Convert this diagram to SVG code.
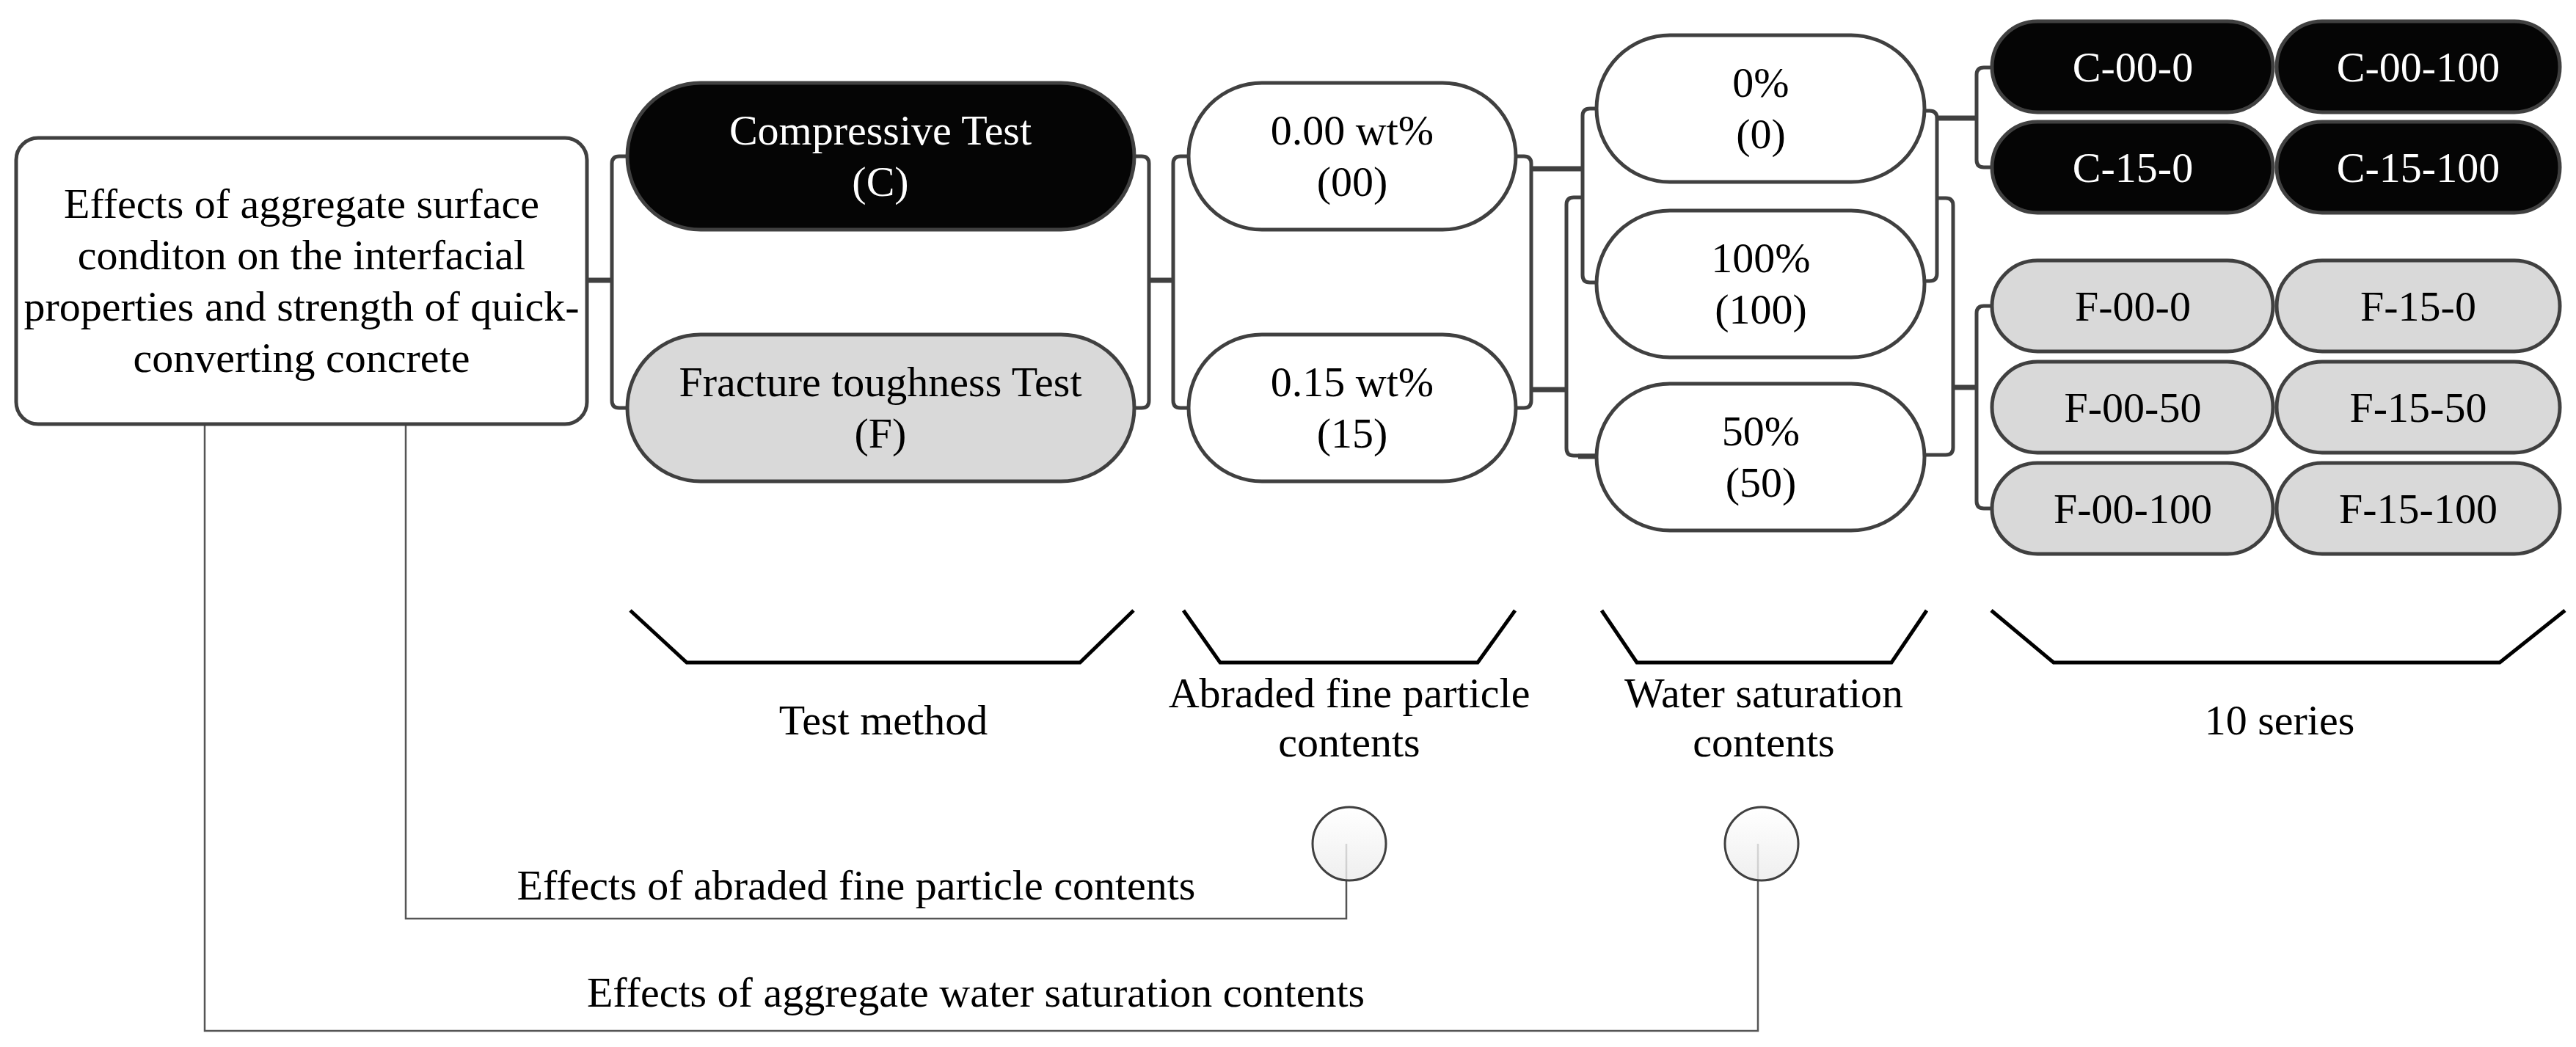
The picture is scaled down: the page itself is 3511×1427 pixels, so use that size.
<svg xmlns="http://www.w3.org/2000/svg" width="3511" height="1427" viewBox="0 0 3511 1427">
<defs>
<linearGradient id="cg" x1="0" y1="0" x2="0" y2="1"><stop offset="0" stop-color="#ffffff"/><stop offset="1" stop-color="#ebebeb"/></linearGradient>
<style>
text{font-family:"Liberation Serif","Times New Roman",serif;font-size:58px;text-anchor:middle;fill:#000}
.w{fill:#fff}
.pw{fill:#fff;stroke:#404040;stroke-width:5}
.pb{fill:#050505;stroke:#404040;stroke-width:5}
.pg{fill:#d9d9d9;stroke:#404040;stroke-width:5}
.br{fill:none;stroke:#404040;stroke-width:5;stroke-linejoin:round}
.tk{fill:none;stroke:#404040;stroke-width:7}
.tr{fill:none;stroke:#000;stroke-width:5;stroke-linejoin:miter}
.thin{fill:none;stroke:#555;stroke-width:2.5}
.circ{fill:url(#cg);fill-opacity:0.8;stroke:#404040;stroke-width:3}
</style>
</defs>
<rect width="3511" height="1427" fill="#fff"/>

<g id="connectors">
<line class="tk" x1="800" y1="382" x2="834" y2="382"/>
<path class="br" d="M855,213 H844 Q834,213 834,223 V546 Q834,556 844,556 H855"/>
<path class="br" d="M1546,213 H1556 Q1566,213 1566,223 V546 Q1566,556 1556,556 H1546"/>
<line class="tk" x1="1566" y1="382" x2="1599" y2="382"/>
<path class="br" d="M1620,213 H1609 Q1599,213 1599,223 V546 Q1599,556 1609,556 H1620"/>
<path class="br" d="M2066,213 H2077 Q2087,213 2087,223 V546 Q2087,556 2077,556 H2066"/>
<line class="tk" x1="2087" y1="230" x2="2157" y2="230"/>
<line class="tk" x1="2087" y1="531" x2="2135" y2="531"/>
<path class="br" d="M2176,148 H2167 Q2157,148 2157,158 V375 Q2157,385 2167,385 H2176"/>
<path class="br" d="M2157,269 H2145 Q2135,269 2135,279 V611 Q2135,621 2145,621 H2176"/>
<line class="tk" x1="2151" y1="622" x2="2176" y2="622"/>
<path class="br" d="M2623,151 H2630 Q2640,151 2640,161 V373 Q2640,383 2630,383 H2623"/>
<path class="br" d="M2640,270 H2652 Q2662,270 2662,280 V610 Q2662,620 2652,620 H2623"/>
<line class="tk" x1="2640" y1="161" x2="2694" y2="161"/>
<line class="tk" x1="2662" y1="528" x2="2694" y2="528"/>
<path class="br" d="M2715,92 H2704 Q2694,92 2694,102 V218 Q2694,228 2704,228 H2715"/>
<path class="br" d="M2715,417 H2704 Q2694,417 2694,427 V683 Q2694,693 2704,693 H2715"/>
<path class="thin" d="M279,578 V1405 H2396 V1150"/>
<path class="thin" d="M553,578 V1252 H1835 V1150"/>
</g>

<g id="main">
<rect x="22" y="188" width="778" height="390" rx="30" class="pw"/>
<text x="411" y="297">Effects of aggregate surface</text>
<text x="411" y="367">conditon on the interfacial</text>
<text x="411" y="437">properties and strength of quick-</text>
<text x="411" y="507">converting concrete</text>
</g>

<g id="test-c">
<rect x="855" y="113" width="691" height="200" rx="100" class="pb"/>
<text class="w" x="1200" y="197">Compressive Test</text>
<text class="w" x="1200" y="267">(C)</text>
</g>
<g id="test-f">
<rect x="855" y="456" width="691" height="200" rx="100" class="pg"/>
<text x="1200" y="540">Fracture toughness Test</text>
<text x="1200" y="610">(F)</text>
</g>

<g id="wt-00">
<rect x="1620" y="113" width="446" height="200" rx="100" class="pw"/>
<text x="1843" y="197">0.00 wt%</text>
<text x="1843" y="267">(00)</text>
</g>
<g id="wt-15">
<rect x="1620" y="456" width="446" height="200" rx="100" class="pw"/>
<text x="1843" y="540">0.15 wt%</text>
<text x="1843" y="610">(15)</text>
</g>

<g id="ws-0">
<rect x="2176" y="48" width="447" height="200" rx="100" class="pw"/>
<text x="2400" y="132">0%</text>
<text x="2400" y="202">(0)</text>
</g>
<g id="ws-100">
<rect x="2176" y="287" width="447" height="200" rx="100" class="pw"/>
<text x="2400" y="371">100%</text>
<text x="2400" y="441">(100)</text>
</g>
<g id="ws-50">
<rect x="2176" y="523" width="447" height="200" rx="100" class="pw"/>
<text x="2400" y="607">50%</text>
<text x="2400" y="677">(50)</text>
</g>

<g id="c-00-0"><rect x="2715" y="29" width="383" height="124" rx="62" class="pb"/><text class="w" x="2907" y="111">C-00-0</text></g>
<g id="c-00-100"><rect x="3103" y="29" width="386" height="124" rx="62" class="pb"/><text class="w" x="3296" y="111">C-00-100</text></g>
<g id="c-15-0"><rect x="2715" y="166" width="383" height="124" rx="62" class="pb"/><text class="w" x="2907" y="248">C-15-0</text></g>
<g id="c-15-100"><rect x="3103" y="166" width="386" height="124" rx="62" class="pb"/><text class="w" x="3296" y="248">C-15-100</text></g>

<g id="f-00-0"><rect x="2715" y="355" width="383" height="124" rx="62" class="pg"/><text x="2907" y="437">F-00-0</text></g>
<g id="f-15-0"><rect x="3103" y="355" width="386" height="124" rx="62" class="pg"/><text x="3296" y="437">F-15-0</text></g>
<g id="f-00-50"><rect x="2715" y="493" width="383" height="124" rx="62" class="pg"/><text x="2907" y="575">F-00-50</text></g>
<g id="f-15-50"><rect x="3103" y="493" width="386" height="124" rx="62" class="pg"/><text x="3296" y="575">F-15-50</text></g>
<g id="f-00-100"><rect x="2715" y="631" width="383" height="124" rx="62" class="pg"/><text x="2907" y="713">F-00-100</text></g>
<g id="f-15-100"><rect x="3103" y="631" width="386" height="124" rx="62" class="pg"/><text x="3296" y="713">F-15-100</text></g>

<g id="label-test">
<path class="tr" d="M859,832 L936,903 L1472,903 L1545,832"/>
<text x="1204" y="1001">Test method</text>
</g>
<g id="label-abraded">
<path class="tr" d="M1613,832 L1663,903 L2014,903 L2065,832"/>
<text x="1839" y="964">Abraded fine particle</text>
<text x="1839" y="1031">contents</text>
</g>
<g id="label-water">
<path class="tr" d="M2183,832 L2231,903 L2578,903 L2626,832"/>
<text x="2404" y="964">Water saturation</text>
<text x="2404" y="1031">contents</text>
</g>
<g id="label-series">
<path class="tr" d="M2714,832 L2799,903 L3407,903 L3496,832"/>
<text x="3107" y="1001">10 series</text>
</g>

<g id="circle-abraded"><circle cx="1839" cy="1150" r="50" class="circ"/></g>
<g id="circle-water"><circle cx="2401" cy="1150" r="50" class="circ"/></g>

<g id="effect-labels">
<text x="1167" y="1226">Effects of abraded fine particle contents</text>
<text x="1330" y="1372">Effects of aggregate water saturation contents</text>
</g>
</svg>
